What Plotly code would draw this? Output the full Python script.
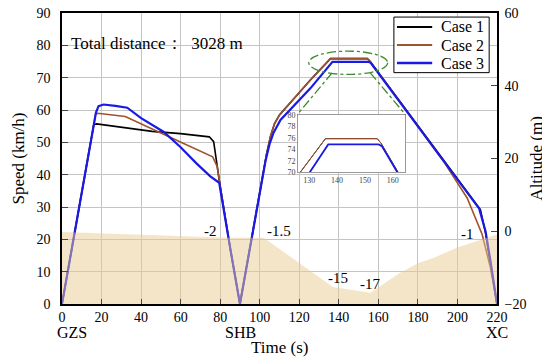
import plotly.graph_objects as go

# ---------------- data ----------------
case1_t = [0, 16.1, 17.5, 45.6, 59.9, 74.5, 76.7, 79.6, 85, 90,
           103.5, 105.5, 107.5, 110, 125.6, 135.8, 154.4, 155.8, 211.6, 214.2, 220]
case1_v = [0, 55.5, 55.7, 53.4, 52.7, 51.7, 50.2, 38, 17.5, 0,
           46.5, 52, 55.8, 58.5, 69.3, 75.9, 75.9, 75.1, 29.2, 22, 0]

case2_t = [0, 17, 18, 32, 57.4, 76.2, 78.5, 79.6, 85, 90,
           103.5, 105.5, 107.5, 110, 125.6, 135.8, 154.4, 155.8, 193, 198, 204.9, 212.5, 216.7, 220]
case2_v = [0, 58.7, 59, 58, 50.8, 45.5, 42.5, 38, 17.5, 0,
           46.5, 52, 55.8, 58.5, 69.3, 75.9, 75.9, 75.1, 44.1, 39.2, 32.8, 21.5, 11.2, 0]

case3_t = [0, 17.2, 18.5, 21, 27, 33, 40, 51.5, 60, 68, 75, 79.5, 85, 90,
           103, 105, 107, 110.5, 125.6, 136.2, 136.8, 154.9, 156.1, 211, 214.2, 216.7, 220]
case3_v = [0, 59.3, 61.2, 61.7, 61.3, 60.7, 57.5, 53.2, 48.5, 43.5, 39.5, 37.5, 17.5, 0,
           44.5, 49.5, 53, 56.9, 66.7, 74.6, 74.9, 74.9, 74.6, 29.5, 22.5, 13.3, 0]

alt_t = [0, 40, 80, 102, 137, 156, 171, 180, 188, 200, 205, 212, 219, 220]
alt_h = [-0.2, -1.0, -1.7, -1.8, -15.3, -16.9, -11.4, -8.8, -7.3, -4.5, -3.6, -2.2, -1.0, -0.9]

grad_labels = ["-2", "-1.5", "-15", "-17", "-1"]
grad_t = [75, 109.5, 139.8, 156, 205]
grad_v = [22.5, 22.5, 8.0, 6.2, 21.6]

stations = ["GZS", "SHB", "XC"]
station_t = [5, 90.3, 220]

case_names = ["Case 1", "Case 2", "Case 3"]
case_colors = ["#000000", "#A0522D", "#1a1ae6"]
case_widths = [1.6, 1.6, 2.2]

x_ticks = list(range(0, 221, 20))
speed_ticks = list(range(0, 91, 10))
alt_ticks = [-20, 0, 20, 40, 60]
inset_xticks = [130, 140, 150, 160]
inset_yticks = [70, 72, 74, 76, 78, 80]

zoom_box_t = [124.8, 164.7]
zoom_box_v = [71.0, 78.2]
link_left_t = [136.6, 119.0]
link_left_v = [71.5, 58.6]
link_right_t = [155.9, 173.7]
link_right_v = [71.5, 58.6]

FONT = "Liberation Serif, Times New Roman, serif"
GREEN = "#3f8a2e"

fig = go.Figure()

# altitude fill (right axis)
fig.add_trace(go.Scatter(
    x=alt_t + [alt_t[-1], alt_t[0]], y=alt_h + [-20, -20],
    yaxis="y2", fill="toself", mode="lines",
    line=dict(width=0), fillcolor="rgba(236,203,146,0.5)",
    showlegend=False, hoverinfo="skip"))

series = [(case1_t, case1_v), (case2_t, case2_v), (case3_t, case3_v)]
for (t, v), name, col, w in zip(series, case_names, case_colors, case_widths):
    fig.add_trace(go.Scatter(x=t, y=v, mode="lines", name=name,
                             line=dict(color=col, width=w), showlegend=False))

# inset copies
for (t, v), col, w in zip(series, case_colors, [1.0, 1.0, 1.8]):
    fig.add_trace(go.Scatter(x=t, y=v, mode="lines", xaxis="x3", yaxis="y3",
                             line=dict(color=col, width=w), showlegend=False))

annotations = []
for lab, t, v in zip(grad_labels, grad_t, grad_v):
    annotations.append(dict(x=t, y=v, xref="x", yref="y", text=lab, showarrow=False,
                            font=dict(family=FONT, size=15, color="black")))
for lab, t in zip(stations, station_t):
    annotations.append(dict(x=t, y=-0.097, xref="x", yref="paper", text=lab, showarrow=False,
                            xanchor="center", yanchor="middle",
                            font=dict(family=FONT, size=16, color="black")))
annotations.append(dict(x=0.016, y=0.935, xref="paper", yref="paper", xanchor="left",
                        text="Total distance：  3028 m", showarrow=False,
                        font=dict(family=FONT, size=17, color="black")))
annotations.append(dict(x=-0.101, y=0.5, xref="paper", yref="paper", text="Speed (km/h)",
                        textangle=-90, showarrow=False, xanchor="center", yanchor="middle",
                        font=dict(family=FONT, size=17, color="black")))
annotations.append(dict(x=1.090, y=0.5, xref="paper", yref="paper", text="Altitude (m)",
                        textangle=-90, showarrow=False, xanchor="center", yanchor="middle",
                        font=dict(family=FONT, size=17, color="black")))
annotations.append(dict(x=0.5, y=-0.149, xref="paper", yref="paper", text="Time (s)",
                        showarrow=False, xanchor="center", yanchor="middle",
                        font=dict(family=FONT, size=17, color="black")))

shapes = [
    dict(type="circle", xref="x", yref="y", x0=zoom_box_t[0], x1=zoom_box_t[1],
         y0=zoom_box_v[0], y1=zoom_box_v[1], line=dict(color=GREEN, width=1.3, dash="dashdot")),
    dict(type="line", xref="x", yref="y", x0=link_left_t[0], y0=link_left_v[0],
         x1=link_left_t[1], y1=link_left_v[1], line=dict(color=GREEN, width=1.3, dash="dashdot")),
    dict(type="line", xref="x", yref="y", x0=link_right_t[0], y0=link_right_v[0],
         x1=link_right_t[1], y1=link_right_v[1], line=dict(color=GREEN, width=1.3, dash="dashdot")),
]

# compact legend box (paper coordinates)
LEG_X0, LEG_X1, LEG_Y0, LEG_Y1 = 0.763, 0.982, 0.795, 0.986
shapes.append(dict(type="rect", xref="paper", yref="paper", x0=LEG_X0, x1=LEG_X1,
                   y0=LEG_Y0, y1=LEG_Y1, line=dict(color="black", width=1),
                   fillcolor="white", layer="above"))
row_y = [0.952, 0.890, 0.828]
for name, col, w, ry in zip(case_names, case_colors, case_widths, row_y):
    shapes.append(dict(type="line", xref="paper", yref="paper", x0=0.770, x1=0.851,
                       y0=ry, y1=ry, line=dict(color=col, width=w + 0.4), layer="above"))
    annotations.append(dict(x=0.866, y=ry, xref="paper", yref="paper", text=name,
                            xanchor="left", yanchor="middle", showarrow=False,
                            font=dict(family=FONT, size=16, color="black")))

axfont = dict(family=FONT, size=14, color="black")
fig.update_layout(
    width=542, height=349,
    margin=dict(l=54, r=53, t=5, b=53, autoexpand=False),
    paper_bgcolor="white", plot_bgcolor="white",
    font=dict(family=FONT, color="black"),
    showlegend=False,
    xaxis=dict(range=[0, 220], tickvals=x_ticks, ticks="inside", ticklen=5,
               showline=True, linecolor="black", linewidth=1.5, mirror=True,
               showgrid=True, gridcolor="#c4c4c4", gridwidth=1, zeroline=False,
               tickfont=axfont, ticklabelstandoff=-1, ticklabeloverflow="allow",
               automargin=False),
    yaxis=dict(range=[0, 90], tickvals=speed_ticks, ticks="inside", ticklen=6,
               showline=True, linecolor="black", linewidth=1.5,
               showgrid=True, gridcolor="#c4c4c4", gridwidth=1, zeroline=False,
               tickfont=axfont, ticklabelstandoff=7, ticklabeloverflow="allow",
               automargin=False),
    yaxis2=dict(range=[-20, 60], tickvals=alt_ticks, ticks="inside", ticklen=6,
                overlaying="y", side="right", showline=True, linecolor="black", linewidth=1.5,
                showgrid=False, zeroline=False, tickfont=axfont, ticklabelstandoff=3,
                ticklabeloverflow="allow", automargin=False),
    xaxis3=dict(domain=[0.543, 0.789], anchor="y3", range=[126, 164.5],
                tickvals=inset_xticks, ticks="", showline=True, mirror=True,
                linecolor="#999999", linewidth=1, showgrid=False, zeroline=False,
                tickfont=dict(family=FONT, size=8, color="#444444"), automargin=False),
    yaxis3=dict(domain=[0.452, 0.649], anchor="x3", range=[70, 80],
                tickvals=inset_yticks, ticks="", showline=True, mirror=True,
                linecolor="#999999", linewidth=1, showgrid=False, zeroline=False,
                tickfont=dict(family=FONT, size=8, color="#444444"), automargin=False),
    annotations=annotations,
    shapes=shapes,
)

fig.write_html("out.html")
